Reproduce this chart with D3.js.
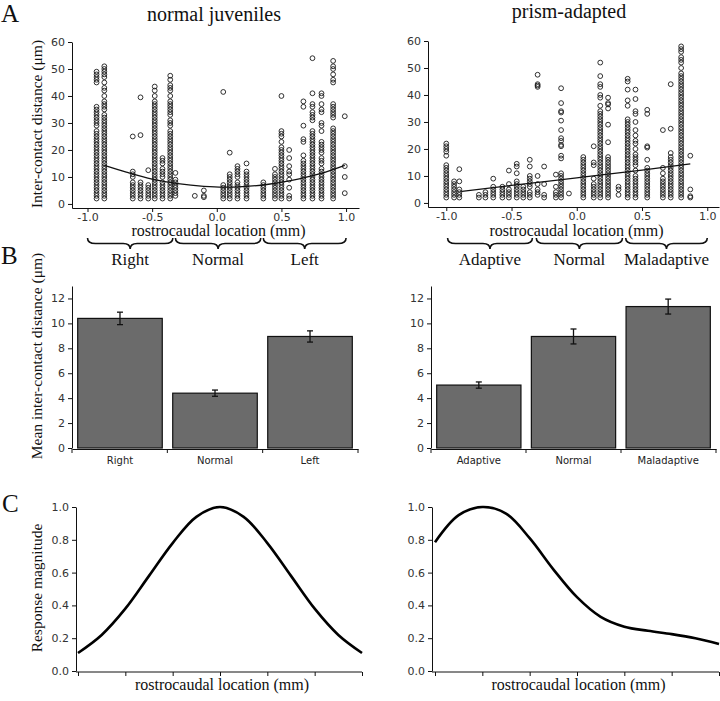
<!DOCTYPE html>
<html lang="en">
<head>
<meta charset="utf-8">
<title>Inter-contact distance</title>
<style>
body { margin: 0; background: #fff; }
.tick text { font-family: "DejaVu Sans", sans-serif; font-size: 11px; fill: #333; }
.axis path, .axis line { stroke: #111; stroke-width: 1; }
text.serif { font-family: "Liberation Serif", "DejaVu Serif", serif; fill: #111; }
.cat text { font-size: 10px; fill: #222; }
</style>
</head>
<body>
<div id="chart"></div>
<script src="https://d3js.org/d3.v7.min.js"></script>
<script>
// A: inter-contact distance per recording column, [location mm, [distances um]]
var juvCols = [
	[-0.93, [49,48,47,46,45,36,35,34,33,32,31,30,29,27,26,25,24,23,22,21,20,19,18,17,16,15,14,13,12,11,10,9,8,7,6,5,4,3,2]],
	[-0.87, [51,50,49,48,47,45,43,42,40,38,37,36,35,33,32,31,30,29,28,27,26,25,24,23,22,21,20,19,18,17,16,15,14,13,12,11,10,9,8,7,6,5,4,3,2]],
	[-0.65, [25,12,11,10,8,7,6,5,4,3,2]],
	[-0.59, [39.5,25.5,8,7,6,5,4,3,2]],
	[-0.53, [12.5,7,6,5,4,3,2]],
	[-0.48, [43.5,42,40,38,37,36,35,34,33,32,31,30,29,28,27,26,25,24,23,22,21,20,19,18,17,16,15,14,13,12,11,10,9,8,7,6,5,4,3,2]],
	[-0.42, [17,16,15,13,12,11,10,8,7,6,5,4,3,2]],
	[-0.36, [47.5,46,44,43,42,40,38,37,36,35,34,33,31,30,29,27,26,25,24,23,22,21,20,19,18,17,16,15,14,13,12,11,10,9,8,7,6,5,4,3,2]],
	[-0.32, [11.5,9,8,7,6,5,4,3]],
	[-0.17, [3]],
	[-0.10, [5,3,2.5]],
	[0.05, [41.5,7,6,5,4,3,2]],
	[0.10, [19,11,10,9,8,7,6,5,4,3,2]],
	[0.16, [14,13,12,11,10,8,7,6,5,4,3,2]],
	[0.23, [15,12,11,10,9,8,7,6,5,4,3,2]],
	[0.36, [8,7,6,5,4,3,2]],
	[0.45, [13,11,10,9,8,7,6,5,4,3,2]],
	[0.50, [40,27,26,25,23,21,20,19,18,17,16,15,14,13,12,11,10,9,8,7,6,5,4,3,2]],
	[0.56, [20,17,14,12,11,9,6,3,2]],
	[0.67, [38,36,29,24,23,18,16,15,14,13,12,11,10,9,8,7,6,5,4,3,2]],
	[0.74, [54,41,37,36,34,33,32,31,27,26,25,24,23,22,21,20,19,18,17,16,15,14,13,12,11,10,9,8,7,6,5,4,3,2]],
	[0.81, [41,40,37,35,34,30,29,27,23,22,21,20,19,17,16,15,13,12,11,10,9,8,7,6,5,4,3,2]],
	[0.90, [53,51,50,48,46,45,37,36,35,34,33,32,28,27,26,25,24,23,22,21,20,19,18,17,16,15,14,13,12,11,10,9,8,7,6,5,4,3,2]],
	[0.99, [32.5,14,10,4]]
];
var prismCols = [
	[-1.00, [22,21,20,19,17.5,14,13,12,11,10,9,8,7,6,5,4,3,2]],
	[-0.94, [8,7,6,5,4,3,2]],
	[-0.90, [12.5,8,5,4,3,2]],
	[-0.75, [3,2]],
	[-0.70, [4,3,2]],
	[-0.64, [9,6,5,4,3,2]],
	[-0.57, [6,5,4,3,2]],
	[-0.52, [12,7,5,4,3,2]],
	[-0.46, [14.5,13.5,11,8,7,6,5,4,3,2]],
	[-0.41, [6,5,4,3,2]],
	[-0.36, [16,13.5,10,9,8,7,6,4,3,2]],
	[-0.30, [47.5,44,43.5,43,10,7,5,4,3]],
	[-0.25, [13.5,7,3,2]],
	[-0.16, [10.5,6,4,3,2]],
	[-0.12, [42.5,37,34,33.5,30.5,27,24,23,21.5,21,17.5,16.5,11,10,9,8,7,6,5,4,3,2]],
	[-0.06, [3.5]],
	[0.05, [17,16,15,14,13,12,11,10,9,8,7,6,5,4,3,2]],
	[0.13, [21,15,14,9,7,6,5,4,3,2]],
	[0.18, [52,47,44,43,40,39,36,34,33,32,31,30,29,28,27,26,25,24,23,22,21,20,19,18,17,16,15,14,13,12,11,10,9,8,7,6,5,4,3,2]],
	[0.24, [39,37,36.5,35,29,22.5,17,16,15,14,13,12,11,10,9,8,7,6,5,4,3,2]],
	[0.32, [6,5,3]],
	[0.39, [46,45,42,38,36,31,30,29,28,27,26,25,24,23,22,21,20,19,18,17,16,15,14,13,12,11,10,9,8,7,6,5,4,3,2]],
	[0.45, [42,38.5,34,33,30,27,25,23,22,20,18,17,16,15,14,12,10,9,8,7,6,5,4,3,2]],
	[0.54, [34.5,33,21,20.5,16,13,12,11,10,9,8,7,6,5,4,3,2]],
	[0.66, [27,13,11,9,8,7,6,5,4,3,2]],
	[0.72, [44,27.5,18.5,17,16,15,14,13,12,11,10,9,8,7,6,5,4,3,2]],
	[0.80, [58,57,56,54,53,52,50,48,47,46,45,44,43,42,41,40,39,38,37,36,35,34,33,32,31,30,29,28,27,26,25,24,23,22,21,20,19,18,17,16,15,14,13,12,11,10,9,8,7,6,5,4,3,2]],
	[0.87, [17.5,5,2.5,2]]
];
// fitted trend lines
var juvFit = [[-0.87,14.3],[-0.7,11.8],[-0.5,9.2],[-0.3,7.5],[-0.1,6.5],[0.05,6.2],[0.2,6.4],[0.4,7.3],[0.6,8.9],[0.8,11.2],[0.99,14.3]];
var prismFit = [[-0.88,4.3],[-0.5,6.5],[0,9.3],[0.5,12.2],[0.87,14.5]];
var rcTicks = [-1.0, -0.5, 0.0, 0.5, 1.0];
var distTicks = [0, 10, 20, 30, 40, 50, 60];

// brace groups under the A axes
var juvGroups = ["Right", "Normal", "Left"];
var juvBounds = [[-1.0,-0.34],[-0.32,0.34],[0.36,1.0]];
var prismGroups = ["Adaptive", "Normal", "Maladaptive"];
var prismBounds = [[-0.99,-0.34],[-0.31,0.35],[0.375,1.0]];

// B: means and error half-widths
var juvMeans = [10.4, 4.4, 8.95];
var juvErr = [0.5, 0.25, 0.45];
var prismMeans = [5.05, 8.95, 11.35];
var prismErr = [0.25, 0.6, 0.6];
var meanTicks = [0, 2, 4, 6, 8, 10, 12];

// C: response magnitude across location
var tuneX = [0, 0.5, 1, 1.5, 2, 2.5, 3, 3.5, 4, 4.5, 5, 5.5, 6];
var juvTune = [0.11, 0.22, 0.38, 0.58, 0.78, 0.94, 1.0, 0.94, 0.78, 0.58, 0.38, 0.22, 0.11];
var prismTune = [0.785, 0.95, 1.0, 0.96, 0.81, 0.62, 0.45, 0.33, 0.27, 0.245, 0.225, 0.2, 0.165];
var respTicks = [0, 0.2, 0.4, 0.6, 0.8, 1.0];

var SERIF = "'Liberation Serif', 'DejaVu Serif', serif";

var svg = d3.select("#chart").append("svg")
	.attr("width", 720)
	.attr("height", 701);

function serifText(x, y, txt, size, anchor) {
	return svg.append("text")
		.attr("class", "serif")
		.attr("font-family", SERIF)
		.attr("x", x)
		.attr("y", y)
		.attr("font-size", size)
		.attr("text-anchor", anchor || "middle")
		.text(txt);
}

function yTitle(cy, txt) {
	svg.append("text")
		.attr("class", "serif")
		.attr("font-family", SERIF)
		.attr("font-size", 15.5)
		.attr("text-anchor", "middle")
		.attr("transform", "translate(42," + cy + ") rotate(-90)")
		.text(txt);
}

function scatterPanel(cols, fit, xDomain, xRange, yRange, groups, bounds) {
	var x = d3.scaleLinear().domain(xDomain).range(xRange);
	var y = d3.scaleLinear().domain([-1.5, 60]).range(yRange);

	svg.append("g").attr("class", "axis")
		.attr("transform", "translate(0," + yRange[0] + ")")
		.call(d3.axisBottom(x).tickValues(rcTicks).tickSize(4).tickPadding(1).tickSizeOuter(0)
			.tickFormat(function(d) { return d.toFixed(1); }));
	svg.append("g").attr("class", "axis")
		.attr("transform", "translate(" + xRange[0] + ",0)")
		.call(d3.axisLeft(y).tickValues(distTicks).tickSize(4).tickSizeOuter(0));

	var pts = [];
	cols.forEach(function(c) {
		c[1].forEach(function(v) { pts.push([c[0], v]); });
	});
	svg.append("g").selectAll("circle").data(pts).enter().append("circle")
		.attr("cx", function(d) { return x(d[0]); })
		.attr("cy", function(d) { return y(d[1]); })
		.attr("r", 2.4)
		.attr("fill", "none")
		.attr("stroke", "#1a1a1a")
		.attr("stroke-width", 0.9);

	svg.append("path").datum(fit)
		.attr("fill", "none")
		.attr("stroke", "#111")
		.attr("stroke-width", 1.3)
		.attr("d", d3.line().curve(d3.curveMonotoneX)
			.x(function(d) { return x(d[0]); })
			.y(function(d) { return y(d[1]); }));

	serifText((xRange[0] + xRange[1]) / 2 + 3, 236, "rostrocaudal location (mm)", 16);

	// curly braces
	var yt = 238, yb = 243.5, ytip = 249;
	bounds.forEach(function(b, i) {
		var x1 = x(b[0]), x2 = x(b[1]), m = (x1 + x2) / 2;
		var p = "M" + x1 + "," + yt + " Q" + x1 + "," + yb + " " + (x1 + 8) + "," + yb +
			" L" + (m - 7) + "," + yb + " Q" + m + "," + yb + " " + m + "," + ytip +
			" Q" + m + "," + yb + " " + (m + 7) + "," + yb +
			" L" + (x2 - 8) + "," + yb + " Q" + x2 + "," + yb + " " + x2 + "," + yt;
		svg.append("path").attr("d", p)
			.attr("fill", "none").attr("stroke", "#111").attr("stroke-width", 1.6);
		serifText(m, 265, groups[i], 17);
	});
}

function barPanel(cats, means, errs, xRange) {
	var x = d3.scaleBand().domain(cats).range(xRange).paddingInner(0.11).paddingOuter(0.06);
	var y = d3.scaleLinear().domain([0, 13]).range([448, 286]);

	svg.append("g").attr("class", "axis")
		.attr("transform", "translate(" + xRange[0] + ",0)")
		.call(d3.axisLeft(y).tickValues(meanTicks).tickSize(4).tickSizeOuter(0));
	var xa = svg.append("g").attr("class", "axis cat")
		.attr("transform", "translate(0,449)")
		.call(d3.axisBottom(x).tickSize(0).tickPadding(8).tickSizeOuter(0));
	// ticks sit between categories
	var step = (xRange[1] - xRange[0]) / cats.length;
	xa.selectAll(".sep").data(d3.range(cats.length + 1)).enter().append("line")
		.attr("class", "sep")
		.attr("x1", function(i) { return xRange[0] + i * step; })
		.attr("x2", function(i) { return xRange[0] + i * step; })
		.attr("y1", 0).attr("y2", 4)
		.attr("stroke", "#111");

	svg.append("g").selectAll("rect").data(means).enter().append("rect")
		.attr("x", function(d, i) { return x(cats[i]); })
		.attr("y", function(d) { return y(d); })
		.attr("width", x.bandwidth())
		.attr("height", function(d) { return y(0) - y(d); })
		.attr("fill", "#6b6b6b")
		.attr("stroke", "#111")
		.attr("stroke-width", 1.2);

	var eb = svg.append("g").attr("stroke", "#111").attr("stroke-width", 1.3);
	means.forEach(function(m, i) {
		var cx = x(cats[i]) + x.bandwidth() / 2;
		eb.append("line").attr("x1", cx).attr("x2", cx).attr("y1", y(m - errs[i])).attr("y2", y(m + errs[i]));
		eb.append("line").attr("x1", cx - 3).attr("x2", cx + 3).attr("y1", y(m - errs[i])).attr("y2", y(m - errs[i]));
		eb.append("line").attr("x1", cx - 3).attr("x2", cx + 3).attr("y1", y(m + errs[i])).attr("y2", y(m + errs[i]));
	});
}

function curvePanel(vals, yAxisX, xRange) {
	var x = d3.scaleLinear().domain([0, 6]).range(xRange);
	var y = d3.scaleLinear().domain([0, 1]).range([671, 507]);

	svg.append("g").attr("class", "axis")
		.attr("transform", "translate(0,672)")
		.call(d3.axisBottom(x).ticks(6).tickSize(4).tickSizeOuter(0).tickFormat(""))
		.select(".domain").attr("d", "M" + yAxisX + ",0H" + xRange[1]);
	svg.append("g").attr("class", "axis")
		.attr("transform", "translate(" + yAxisX + ",0)")
		.call(d3.axisLeft(y).tickValues(respTicks).tickSize(4).tickSizeOuter(0)
			.tickFormat(function(d) { return d.toFixed(1); }));

	svg.append("path").datum(vals)
		.attr("fill", "none")
		.attr("stroke", "#000")
		.attr("stroke-width", 2.6)
		.attr("d", d3.line().curve(d3.curveCatmullRom)
			.x(function(d, i) { return x(tuneX[i]); })
			.y(function(d) { return y(d); }));

	serifText((yAxisX + xRange[1]) / 2 + 3, 690, "rostrocaudal location (mm)", 16);
}

// panel letters and titles
serifText(1, 22, "A", 25, "start");
serifText(1, 264, "B", 25, "start");
serifText(2, 512, "C", 25, "start");
serifText(214, 21, "normal juveniles", 20);
serifText(569, 18, "prism-adapted", 20);

yTitle(124, "Inter-contact distance (μm)");
yTitle(356, "Mean inter-contact distance (μm)");
yTitle(588, "Response magnitude");

scatterPanel(juvCols, juvFit, [-1.12, 1.1], [72, 359], [208, 42], juvGroups, juvBounds);
scatterPanel(prismCols, prismFit, [-1.14, 1.09], [428, 719], [207, 41], prismGroups, prismBounds);

barPanel(juvGroups, juvMeans, juvErr, [72, 358]);
barPanel(prismGroups, prismMeans, prismErr, [431, 716]);

curvePanel(juvTune, 76, [78, 362]);
curvePanel(prismTune, 432, [435, 719]);
</script>
</body>
</html>
